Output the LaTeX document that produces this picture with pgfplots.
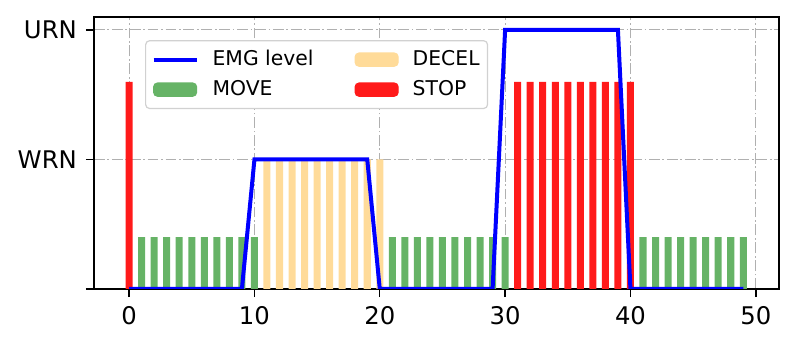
\documentclass[border=0pt]{standalone}
\usepackage{pgfplots}
\pgfplotsset{compat=1.18}
\usepackage{fontspec}
\setmainfont{DejaVu Sans}
\definecolor{movec}{HTML}{66B366}
\definecolor{decelc}{HTML}{FFDB99}
\definecolor{stopc}{HTML}{FF1A1A}
\definecolor{gridc}{HTML}{B0B0B0}
\pgfplotstableread{
x y
0 1.6
31 1.6
32 1.6
33 1.6
34 1.6
35 1.6
36 1.6
37 1.6
38 1.6
39 1.6
40 1.6
}\stopdata
\pgfplotstableread{
x y
1 0.4
2 0.4
3 0.4
4 0.4
5 0.4
6 0.4
7 0.4
8 0.4
9 0.4
10 0.4
21 0.4
22 0.4
23 0.4
24 0.4
25 0.4
26 0.4
27 0.4
28 0.4
29 0.4
30 0.4
41 0.4
42 0.4
43 0.4
44 0.4
45 0.4
46 0.4
47 0.4
48 0.4
49 0.4
}\movedata
\pgfplotstableread{
x y
11 1.0
12 1.0
13 1.0
14 1.0
15 1.0
16 1.0
17 1.0
18 1.0
19 1.0
20 1.0
}\deceldata
\pgfplotstableread{
x y
0 0
9 0
10 1
19 1
20 0
29 0
30 2
39 2
40 0
49 0
}\emgdata
\begin{document}
\fontsize{10.2}{12.2}\selectfont
\begin{tikzpicture}
\begin{axis}[
  at={(0,0)}, anchor=south west,
  width=342.5bp, height=136bp, scale only axis,
  xmin=-2.8, xmax=51.85, ymin=0, ymax=2.1,
  xtick={0,10,...,50}, ytick={0,1,2}, yticklabels={,WRN,URN},
  tick align=outside, xtick pos=bottom, ytick pos=left,
  major tick length=4bp,
  tick style={line width=0.7bp, black},
  axis line style={line width=0.8bp},
  grid=major,
  grid style={line width=0.5bp, gridc, dash pattern=on 5.4bp off 1.35bp on 0.85bp off 1.35bp},
  /pgf/number format/assume math mode=true,
  ticklabel style={font=\fontsize{12.2}{14.6}\selectfont},
  xticklabel style={yshift=-1bp},
  yticklabel style={xshift=-1bp},
  legend columns=2,
  legend cell align=left,
  legend style={
    at={(0.0745,0.915)}, anchor=north west,
    draw=black!18, line width=0.6bp, rounded corners=2bp,
    font=\fontsize{10.2}{12.2}\selectfont,
    inner xsep=3bp, inner ysep=3.2bp,
    nodes={inner sep=1bp, text height=8bp, text depth=2.5bp},
    row sep=2.5bp,
    /tikz/every odd column/.append style={column sep=6bp},
    /tikz/every even column/.append style={column sep=19.5bp},
  },
]
\addplot[ybar, bar width=0.56, bar shift=0pt, fill=decelc, draw=none, forget plot] table[x=x,y=y] {\deceldata};
\addplot[ybar, bar width=0.56, bar shift=0pt, fill=movec, draw=none, forget plot] table[x=x,y=y] {\movedata};
\addplot[ybar, bar width=0.56, bar shift=0pt, fill=stopc, draw=none, forget plot] table[x=x,y=y] {\stopdata};
\addplot[blue, line width=2bp, mark=none, forget plot] table[x=x,y=y] {\emgdata};
\addlegendimage{legend image code/.code={\draw[blue, line width=2bp] (0bp,0bp) -- (21.5bp,0bp);}}
\addlegendentry{EMG level}
\addlegendimage{legend image code/.code={\fill[decelc] (0bp,-3.3bp) rectangle (21.5bp,3.3bp);}}
\addlegendentry{DECEL}
\addlegendimage{legend image code/.code={\fill[movec] (0bp,-3.3bp) rectangle (21.5bp,3.3bp);}}
\addlegendentry{MOVE}
\addlegendimage{legend image code/.code={\fill[stopc] (0bp,-3.3bp) rectangle (21.5bp,3.3bp);}}
\addlegendentry{STOP}
\end{axis}
\pgfresetboundingbox
\path[use as bounding box] (-47bp,-29.5bp) rectangle (351.5bp,144.5bp);
\end{tikzpicture}
\end{document}
